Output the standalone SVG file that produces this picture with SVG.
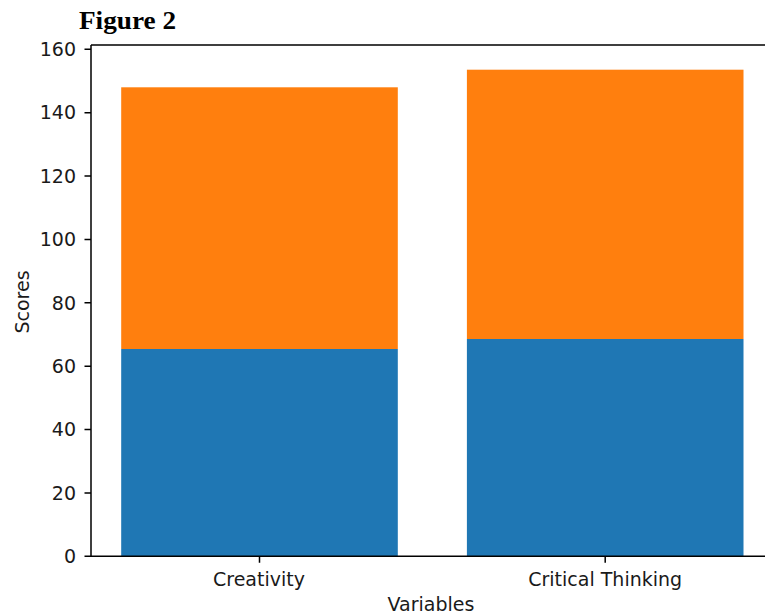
<svg xmlns="http://www.w3.org/2000/svg" width="765" height="615" viewBox="0 0 765 615">
<style>
.t{font-family:"DejaVu Sans",sans-serif;font-size:19px;fill:#1a1a1a}
.yl{text-anchor:end}
.xl{text-anchor:middle}
.ax{stroke:#000;stroke-width:1.5;fill:none}
.blue{fill:#1f77b4}
.orange{fill:#ff7f0e}
</style>
<rect width="765" height="615" fill="#fff"/>
<text x="79" y="29.3" font-family="Liberation Serif,serif" font-weight="bold" font-size="25.5" textLength="97" lengthAdjust="spacingAndGlyphs" fill="#000">Figure 2</text>
<g id="bars">
<g id="creativity">
<rect class="blue" x="121.2" y="349" width="276.6" height="207.3"/>
<rect class="orange" x="121.2" y="87.3" width="276.6" height="261.7"/>
</g>
<g id="critical-thinking">
<rect class="blue" x="466.9" y="339" width="276.6" height="217.3"/>
<rect class="orange" x="466.9" y="69.7" width="276.6" height="269.3"/>
</g>
</g>
<g id="axes">
<path class="ax" d="M91,45 V556.3 M91,45 H765 M91,556.3 H765"/>
<path class="ax" d="M84.5,556.3H91M84.5,492.9H91M84.5,429.5H91M84.5,366.2H91M84.5,302.8H91M84.5,239.4H91M84.5,176H91M84.5,112.7H91M84.5,49.3H91M259.5,556.3V562.8M605.2,556.3V562.8"/>
<g class="t yl">
<text x="76" y="563">0</text>
<text x="76" y="499.6">20</text>
<text x="76" y="436.2">40</text>
<text x="76" y="372.9">60</text>
<text x="76" y="309.5">80</text>
<text x="76" y="246.1">100</text>
<text x="76" y="182.7">120</text>
<text x="76" y="119.4">140</text>
<text x="76" y="56">160</text>
</g>
<g class="t xl">
<text x="259" y="585.7">Creativity</text>
<text x="605.2" y="585.7">Critical Thinking</text>
<text x="431" y="610.5">Variables</text>
<text transform="translate(28.5,302) rotate(-90)">Scores</text>
</g>
</g>
</svg>
